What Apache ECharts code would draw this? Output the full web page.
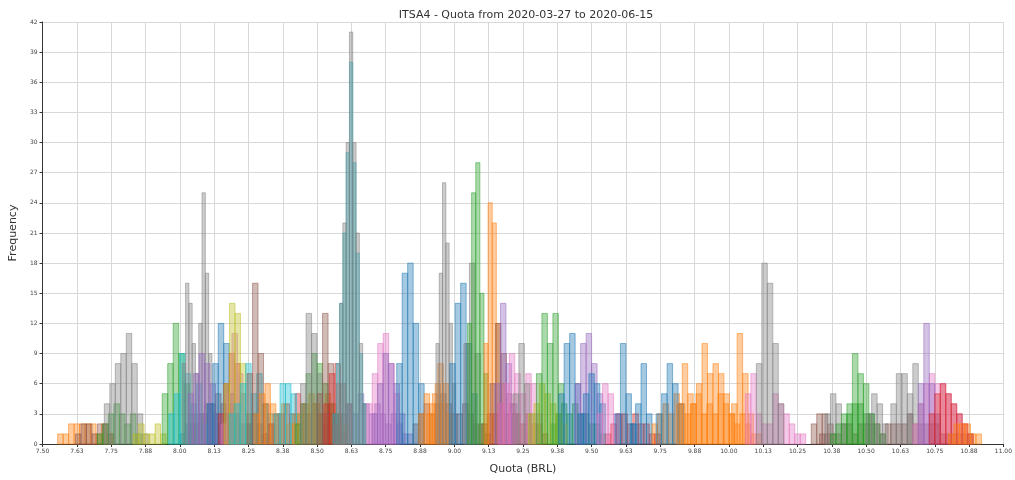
<!DOCTYPE html>
<html>
<head>
<meta charset="utf-8">
<script src="https://cdn.jsdelivr.net/npm/echarts@6/dist/echarts.min.js"></script>
<style>html,body{margin:0;padding:0;background:#fff}#chart{width:1015px;height:480px}</style>
</head>
<body>
<div id="chart"></div>
<script>
// ---- Data: one histogram per trading day (bin counts) ----
// low, wide days (drawn first)
const b01 = [1,2,2,3,3,4,3,2,3,4,3,2,2,3,2,1];
const b02 = [2,3,4,4,5,4,3,3,2];
const b03 = [1,2,3,3,4,3,5,4,3,4,3,2,3,2,1];
const b04 = [2,3,3,4,3,5,4,3,4,3,2,3,2,1,1];
const b05 = [2,3,4,3,4,5,4,3,3,4,3,2,2,1];
const b06 = [2,3,3,4,3,4,3,2,3,2,2,1];
const b07 = [2,3,4,3,4,3,3,2,2,1];
const b08 = [1,2,3,3,2,3,2,2,1,1];
// remaining days
const h01 = [1,1,2,2,2,2,2,1,2,1];
const h02 = [1,2,2,1,2,2,1];
const h03 = [1,2,3,4,3,2,3,1];
const h04 = [4,6,8,9,11,8,3,1];
const h05 = [1,2,1,1,2,1];
const h06 = [5,8,12,9,6,3];
const h07 = [3,5,9,7,4,6,2];
const h08 = [8,16,14,10,7,12,25,17,9,4];
const h09 = [5,7,9,8,6,3];
const h10 = [4,8,12,10,5,3];
const h11 = [3,6,9,8,5,2];
const h12 = [2,5,11,7,3];
const h13 = [6,14,13,8,3];
const h14 = [3,4,6,8,5,7,4,3];
const h15 = [7,16,9,4,2];
const h16 = [3,5,6,4,3,4,2,3];
const h17 = [3,6,6,5,3];
const h18 = [2,3,4,5,4,3,5,4,3,2];
const h19 = [2,4,7,9,8,6,4,3];
const h20 = [6,13,11,7,3];
const h21 = [5,13,8,3];
const h22 = [4,7,8,6,4];
const h23 = [3,8,14,21,29,38,28,19,9,4];
const h24 = [2,6,14,22,30,41,30,21,10,4];
const h25 = [4,7,10,11,8,5];
const h26 = [3,6,9,8,6,3];
const h27 = [8,17,18,12,6];
const h28 = [3,5,4,6,4,3];
const h29 = [3,5,8,6];
const h30 = [10,17,26,20,12,6];
const h31 = [8,14,16,10,5];
const h32 = [10,18,9];
const h33 = [12,25,28,15,7];
const h34 = [10,24,22,12,6];
const h35 = [6,12,9,5,3];
const h36 = [6,14,8,4];
const h37 = [4,6,9,7,5,7,6,3];
const h38 = [5,10,6,3];
const h39 = [3,4,6,5,4,3,2];
const h40 = [7,13,10,13,6];
const h41 = [5,10,11,6,3];
const h42 = [6,10,11,8,5];
const h43 = [3,5,7,6,4];
const h44 = [3,6,5,3];
const h45 = [3,10,5,2];
const h46 = [2,4,8,3];
const h47 = [2,3,4,3,5,4,3,4,5,3,4,3,5,4,3,2,3,2,1,1];
const h48 = [3,5,8,6,4];
const h49 = [4,8,5];
const h50 = [4,6,10,7,8,7,5,3];
const h51 = [4,11,7,3];
const h52 = [5,7,3,2,2,5,4,3,2,1,1];
const h53 = [8,18,16,10,4];
const h54 = [2,3,3,2];
const h55 = [1,1,1,1,2,2,1,2,2,2,2,1,2,2,2,2,3,2,2,2,2,2,1,1,1,1,1,1];
const h56 = [3,5,4,2];
const h57 = [1,2,3,3,4,4,3,3,2,1];
const h58 = [4,9,7,6,3];
const h59 = [3,5,4,2];
const h60 = [4,7,7,3];
const h61 = [5,8,4];
const h62 = [2,4,6,7,6,6,5,4,3,2,1];
const h63 = [6,12,6,3];
const h64 = [3,5,6,5,4,3,2,1];
const h65 = [1,2,2,2,1,1];

// first bin edge (BRL) of each histogram, same order as histCounts
const binStarts = [8.00,8.05,8.30,8.55,8.85,9.10,9.35,9.55,
  7.555,7.62,7.70,7.725,7.83,7.936,7.96,8.009,8.03,8.10,
  8.14,8.15,8.161,8.18,8.245,8.27,8.345,8.41,8.42,8.44,
  8.50,8.525,8.558,8.558,8.681,8.70,8.79,8.87,8.90,8.933,
  8.983,9.035,9.048,9.108,9.13,9.148,9.16,9.215,9.27,9.299,
  9.38,9.44,9.45,9.52,9.585,9.64,9.72,9.735,9.81,9.862,
  10.01,10.06,10.10,10.30,10.33,10.35,10.37,10.43,10.50,10.59,
  10.65,10.67,10.69,10.73,10.80];
// bin width (BRL) of each histogram
const binWidths = [0.02,0.02,0.02,0.02,0.02,0.02,0.02,0.02,
  0.02,0.02,0.02,0.02,0.02,0.02,0.02,0.012,0.02,0.02,
  0.02,0.02,0.02,0.02,0.02,0.02,0.02,0.02,0.02,0.02,
  0.02,0.02,0.012,0.012,0.02,0.02,0.02,0.02,0.02,0.012,
  0.02,0.02,0.015,0.015,0.02,0.02,0.02,0.02,0.02,0.02,
  0.02,0.02,0.02,0.02,0.02,0.02,0.02,0.02,0.02,0.02,
  0.02,0.02,0.02,0.02,0.02,0.02,0.02,0.02,0.02,0.02,
  0.02,0.02,0.02,0.02,0.02];
const histCounts = [b01,b02,b03,b04,b05,b06,b07,b08,
  h01,h02,h03,h04,h05,h06,h07,h08,h09,h10,h11,h12,h13,h14,h15,h16,h17,h18,h19,h20,
  h21,h22,h23,h24,h25,h26,h27,h28,h29,h30,h31,h32,h33,h34,h35,h36,h37,h38,h39,h40,
  h41,h42,h43,h44,h45,h46,h47,h48,h49,h50,h51,h52,h53,h54,h55,h56,h57,h58,h59,h60,
  h61,h62,h63,h64,h65];

// x tick range (BRL) and y tick range (frequency)
const xTickMin = 7.5, xTickMax = 11.0, xTickStep = 0.125;
const yTickMin = 0, yTickMax = 42, yTickStep = 3;

// ---- Styles ----
const tab = {blue:'31,119,180',orange:'255,127,14',green:'44,160,44',red:'214,39,40',purple:'148,103,189',
  brown:'140,86,75',pink:'227,119,194',gray:'127,127,127',olive:'188,189,34',cyan:'23,190,207'};
const seriesColors = ['blue','brown','red','purple','brown','red','green','red',
  'orange','brown','green','gray','olive','green','cyan','gray','purple','blue',
  'red','pink','olive','cyan','brown','orange','cyan','orange','green','gray',
  'brown','red','cyan','gray','pink','purple','blue','orange','orange','gray',
  'blue','gray','green','orange','brown','purple','pink','gray','olive','green',
  'blue','purple','blue','pink','blue','blue','orange','blue','orange','orange',
  'orange','pink','gray','brown','brown','gray','green','green','gray','gray',
  'gray','pink','purple','red','orange'];

const series = histCounts.map(function (counts, k) {
  const s = binStarts[k], w = binWidths[k];
  const data = counts.map(function (c, i) { return [s + i * w, s + (i + 1) * w, c]; });
  const rgb = tab[seriesColors[k]];
  return {
    type: 'custom',
    data: data,
    encode: {x: [0, 1], y: 2},
    z: 2 + k * 0.01,
    renderItem: function (params, api) {
      const p0 = api.coord([api.value(0), 0]);
      const p1 = api.coord([api.value(1), api.value(2)]);
      return {
        type: 'rect',
        shape: {x: p0[0], y: p1[1], width: p1[0] - p0[0], height: p0[1] - p1[1]},
        style: {fill: 'rgba(' + rgb + ',0.4)', stroke: 'rgba(' + rgb + ',0.65)', lineWidth: 0.8}
      };
    }
  };
});

const chart = echarts.init(document.getElementById('chart'), null, {renderer: 'canvas'});
chart.setOption({
  animation: false,
  backgroundColor: '#fff',
  textStyle: {fontFamily: 'DejaVu Sans'},
  title: {
    text: 'ITSA4 - Quota from 2020-03-27 to 2020-06-15',
    left: 521, top: 5, textAlign: 'center',
    textStyle: {fontSize: 11, fontWeight: 'normal', color: '#333', fontFamily: 'DejaVu Sans'}
  },
  grid: {left: 38, right: 11, top: 22, bottom: 29},
  xAxis: {
    type: 'value', min: xTickMin, max: xTickMax, interval: xTickStep,
    name: 'Quota (BRL)', nameLocation: 'middle', nameGap: 20,
    nameTextStyle: {fontSize: 11, color: '#333', fontFamily: 'DejaVu Sans'},
    axisLine: {show: true, lineStyle: {color: '#333', width: 1}},
    axisTick: {show: true, length: 3, lineStyle: {color: '#333'}},
    axisLabel: {fontSize: 6, color: '#444', margin: 4, formatter: function (v) { return v.toFixed(2); }},
    splitLine: {show: true, lineStyle: {color: '#d8d8d8', width: 1}}
  },
  yAxis: {
    type: 'value', min: yTickMin, max: yTickMax, interval: yTickStep,
    name: 'Frequency', nameLocation: 'middle', nameGap: 22,
    nameTextStyle: {fontSize: 11, color: '#333', fontFamily: 'DejaVu Sans'},
    axisLine: {show: true, lineStyle: {color: '#333', width: 1}},
    axisTick: {show: true, length: 3, lineStyle: {color: '#333'}},
    axisLabel: {fontSize: 6, color: '#444', margin: 5},
    splitLine: {show: true, lineStyle: {color: '#d8d8d8', width: 1}}
  },
  series: series
});
</script>
</body>
</html>
